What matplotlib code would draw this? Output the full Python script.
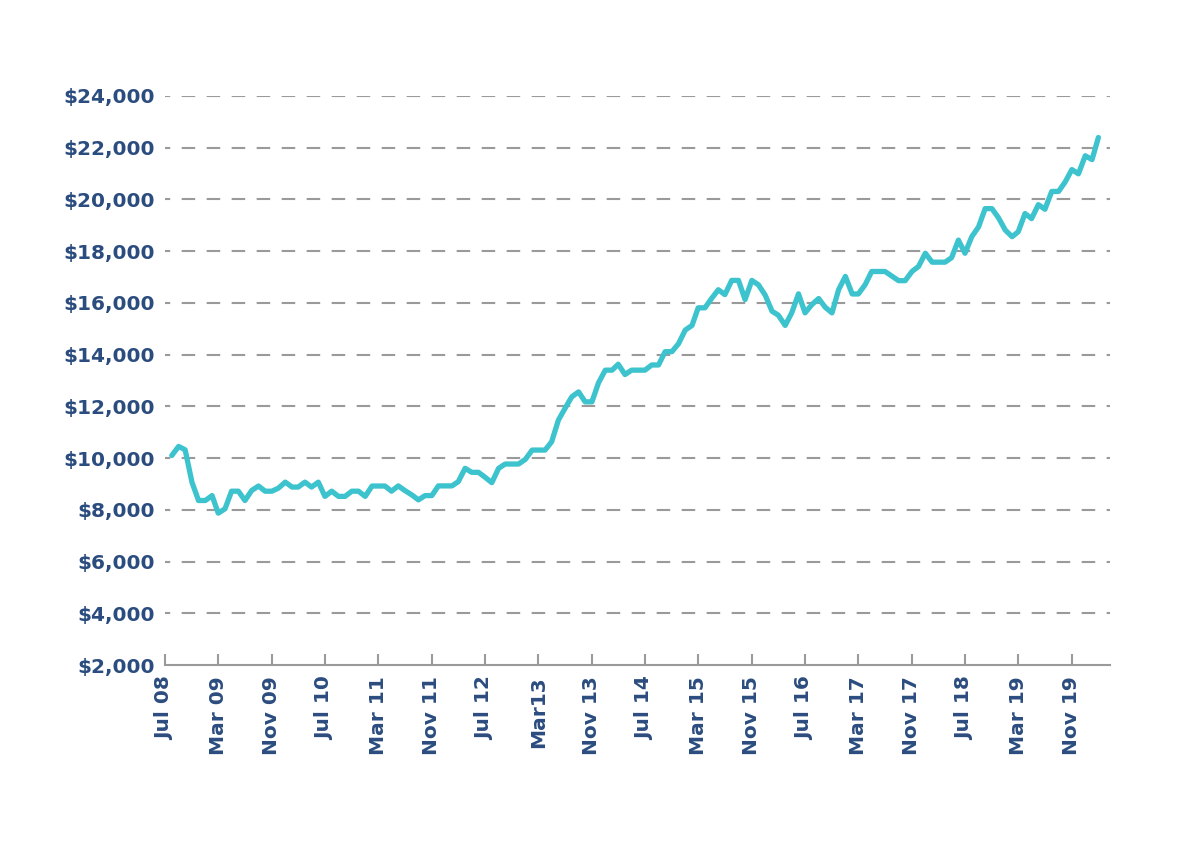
# Growth of an investment, monthly, Aug 2008 - Mar 2020

import numpy as np
import pandas as pd
import matplotlib
matplotlib.use('Agg')
import matplotlib.pyplot as plt

# Monthly values.
values = [
    10100, 10450, 10320, 9070, 8360, 8360, 8550, 7870, 8040, 8720,
    8720, 8360, 8750, 8920, 8720, 8720, 8840, 9070, 8880, 8880,
    9070, 8880, 9070, 8520, 8720, 8520, 8520, 8720, 8720, 8520,
    8920, 8920, 8920, 8720,
    8925, 8745, 8580, 8385, 8550, 8550, 8925, 8925, 8925, 9090,
    9605, 9450, 9450, 9260, 9050, 9605, 9770, 9770, 9770, 9950,
    10310, 10310, 10310, 10630, 11470, 11920, 12370, 12560, 12175, 12175,
    12910, 13400, 13400,
    13630, 13230,
    13400, 13400, 13400, 13600, 13600, 14115, 14115, 14420, 14950, 15130,
    15810, 15810, 16170, 16510, 16320, 16870, 16870, 16130, 16870, 16700,
    16300, 15680, 15525, 15130, 15615, 16350, 15615, 15935, 16170, 15830,
    15615, 16510, 17025,
    16345, 16345, 16700, 17215, 17215, 17215, 17040, 16860, 16860, 17215,
    17410, 17920, 17575, 17575, 17575, 17750, 18430, 17920, 18560, 18940,
    19645, 19645, 19290, 18815, 18560, 18750, 19455, 19260, 19800, 19620,
    20310, 20310, 20670, 21155, 20990, 21690, 21540, 22395,
]
dates = pd.date_range('2008-08-01', periods=len(values), freq='MS')

tick_dates = pd.date_range('2008-07-01', periods=18, freq='8MS')
tick_labels = ['Jul 08', 'Mar 09', 'Nov 09', 'Jul 10', 'Mar 11', 'Nov 11',
               'Jul 12', 'Mar13', 'Nov 13', 'Jul 14', 'Mar 15', 'Nov 15',
               'Jul 16', 'Mar 17', 'Nov 17', 'Jul 18', 'Mar 19', 'Nov 19']
y_ticks = list(range(2000, 24001, 2000))

text_col = '#2b4c7e'
line_col = '#3cc3cd'
grid_col = '#9a9a9a'

plt.rcParams['font.family'] = ['DejaVu Sans']

fig = plt.figure(figsize=(11.91, 8.42), dpi=100)
ax = fig.add_axes([165 / 1191, 1 - 665 / 842, (1110 - 165) / 1191, (665 - 96) / 842])

# Dashed horizontal grid lines.
for v in y_ticks[1:]:
    ax.axhline(v, color=grid_col, linewidth=1.5, linestyle=(4, (6.5, 5.5)), zorder=1)

ax.plot(dates, values, color=line_col, linewidth=3.8,
        solid_capstyle='round', solid_joinstyle='round', zorder=3)

ax.set_ylim(2000, 24000)
ax.set_xlim(pd.Timestamp('2008-07-01'), pd.Timestamp('2020-04-23'))

ax.set_yticks(y_ticks)
ax.set_yticklabels(['${:,}'.format(v) for v in y_ticks])
ax.set_xticks(tick_dates)
ax.set_xticklabels(tick_labels, rotation=90)

ax.tick_params(axis='y', length=0, pad=7, labelsize=14.5, labelcolor=text_col)
ax.tick_params(axis='x', direction='in', length=8, width=1.5, color=grid_col,
               pad=8, labelsize=14.5, labelcolor=text_col)
for lab in ax.get_xticklabels() + ax.get_yticklabels():
    lab.set_fontweight('bold')

for side in ['top', 'right', 'left']:
    ax.spines[side].set_visible(False)
ax.spines['bottom'].set_color(grid_col)
ax.spines['bottom'].set_linewidth(1.5)

plt.savefig('out.png', dpi=100)
